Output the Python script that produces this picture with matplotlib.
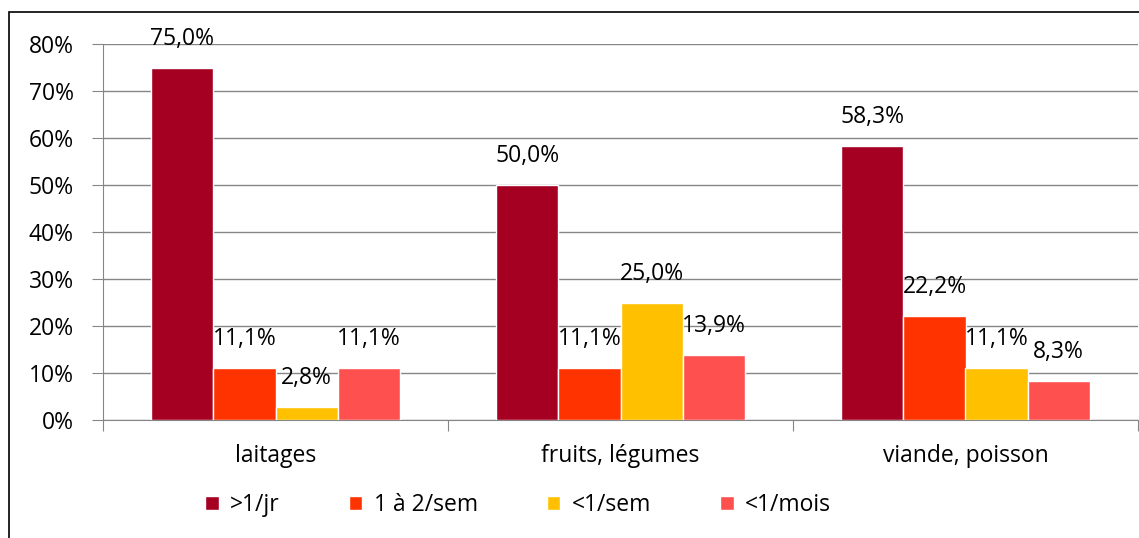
import numpy as np
import matplotlib
matplotlib.use("Agg")
import matplotlib.pyplot as plt
from matplotlib.patches import Rectangle

plt.rcParams['font.family'] = ['Open Sans', 'DejaVu Sans']

categories = ["laitages", "fruits, légumes", "viande, poisson"]
series = [">1/jr", "1 à 2/sem", "<1/sem", "<1/mois"]
values = [
    [75.0, 50.0, 58.3],
    [11.1, 11.1, 22.2],
    [2.8, 25.0, 11.1],
    [11.1, 13.9, 8.3],
]
colors = ["#A50021", "#FF3300", "#FFC000", "#FF5050"]

W, H = 1139, 538
FS = 16.5
fig = plt.figure(figsize=(W / 100, H / 100), dpi=100)
ax = fig.add_axes([103 / W, 1 - 420 / H, 1035 / W, 376 / H])

# outer border of the chart area
fig.patches.append(Rectangle((9 / W, -0.05), 1.2, 1.05 - 12 / H,
                             transform=fig.transFigure, fill=False,
                             edgecolor="black", linewidth=1.2))

x = np.arange(len(categories))
bw = 0.18
for i, (name, vals, c) in enumerate(zip(series, values, colors)):
    pos = x - 1.5 * bw + i * bw
    bars = ax.bar(pos, vals, bw, color=c, edgecolor="white", linewidth=1,
                  label=name, zorder=3)
    for b, v in zip(bars, vals):
        ax.annotate(f"{v:.1f}%".replace(".", ","),
                    (b.get_x() + b.get_width() / 2, v),
                    xytext=(0, 12), textcoords="offset points",
                    ha="center", va="bottom", fontsize=FS)

ax.set_xlim(-0.5, 2.5)
ax.set_ylim(0, 80)
ax.set_yticks(range(0, 81, 10))
ax.set_yticklabels([f"{t}%" for t in range(0, 81, 10)], fontsize=FS)
ax.yaxis.grid(True, color="#868686", linewidth=1)
ax.set_axisbelow(True)

ax.set_xticks([-0.5, 0.5, 1.5, 2.5])
ax.set_xticklabels([])
ax.set_xticks(x, minor=True)
ax.set_xticklabels(categories, minor=True, fontsize=FS)
ax.tick_params(axis="x", which="minor", length=0, pad=17)
ax.tick_params(axis="x", which="major", length=8, color="#868686")
ax.tick_params(axis="y", length=8, color="#868686", pad=13)

for s in ["top", "right"]:
    ax.spines[s].set_visible(False)
ax.spines["left"].set_color("#868686")
ax.spines["bottom"].set_color("#868686")

handles, labels = ax.get_legend_handles_labels()
fig.legend(handles, labels, loc="center", bbox_to_anchor=(518 / W, 1 - 505 / H),
           ncol=4, frameon=False, fontsize=FS, handlelength=0.6, handleheight=0.6,
           columnspacing=3.0, handletextpad=0.5)

fig.savefig("out.png", dpi=100)
